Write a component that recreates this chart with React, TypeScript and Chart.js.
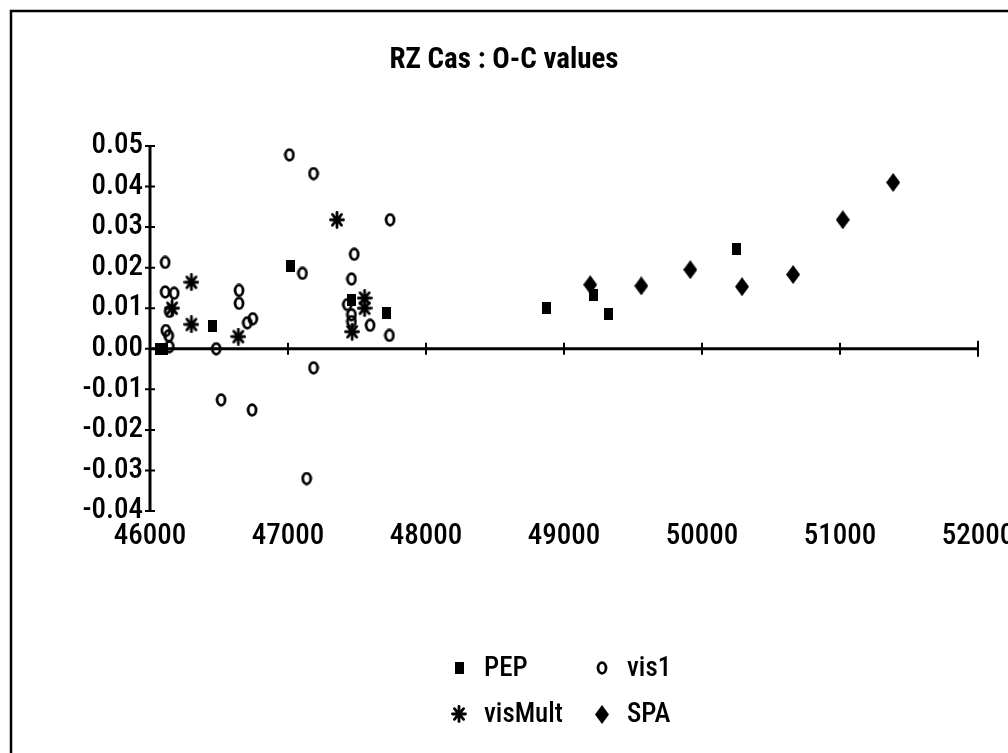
import React, { useEffect, useRef } from 'react';
import { Chart, registerables } from 'chart.js';

Chart.register(...registerables);

// ---------- data ----------
const seriesNames = ['PEP', 'vis1', 'visMult', 'SPA'];

const pepX = [46070, 46100, 46450, 47020, 47460, 47715, 48870, 49215, 49320, 50250];
const pepY = [0.0, 0.0, 0.0055, 0.0203, 0.0121, 0.0089, 0.0100, 0.0132, 0.0085, 0.0245];

const vis1X = [46110, 46110, 46175, 46140, 46115, 46135, 46140, 46480, 46515, 46645, 46645, 46705, 46745, 46740,
  47010, 47185, 47740, 47480, 47105, 47460, 47430, 47460, 47460, 47595, 47735, 47185, 47135];
const vis1Y = [0.0213, 0.0140, 0.0137, 0.0092, 0.0045, 0.0032, 0.0005, 0.0, -0.0126, 0.0144, 0.0112, 0.0064, 0.0074, -0.0151,
  0.0478, 0.0432, 0.0318, 0.0233, 0.0186, 0.0172, 0.0109, 0.0084, 0.0067, 0.0058, 0.0033, -0.0047, -0.0320];

const visMultX = [46160, 46300, 46300, 46640, 47355, 47555, 47555, 47465];
const visMultY = [0.0100, 0.0164, 0.0060, 0.0030, 0.0318, 0.0125, 0.0100, 0.0042];

const spaX = [49190, 49560, 49915, 50290, 50660, 51020, 51385];
const spaY = [0.0158, 0.0155, 0.0195, 0.0153, 0.0183, 0.0318, 0.0410];

const xMin = 46000;
const xMax = 52000;
const xStep = 1000;
const yMin = -0.04;
const yMax = 0.05;
const yStep = 0.01;

const titleText = 'RZ Cas : O-C values';

// ---------- styling ----------
const FONT = "'Roboto Condensed', 'Liberation Sans Narrow', 'Arial Narrow', Roboto, 'Liberation Sans', sans-serif";
const STRETCH = 'condensed';

function makeCanvas(w: number, h: number, draw: (ctx: CanvasRenderingContext2D) => void) {
  const c = document.createElement('canvas');
  c.width = w;
  c.height = h;
  const ctx = c.getContext('2d') as CanvasRenderingContext2D;
  draw(ctx);
  return c;
}

function buildMarkers() {
  const square = makeCanvas(9, 12, (ctx) => {
    ctx.fillStyle = '#000';
    ctx.fillRect(0, 0, 9, 12);
  });
  const ellipse = makeCanvas(12, 14, (ctx) => {
    ctx.strokeStyle = '#000';
    ctx.lineWidth = 2.8;
    ctx.beginPath();
    ctx.ellipse(6, 7, 4.0, 5.3, 0, 0, Math.PI * 2);
    ctx.stroke();
  });
  const star = makeCanvas(16, 18, (ctx) => {
    ctx.strokeStyle = '#000';
    ctx.fillStyle = '#000';
    ctx.lineWidth = 2.8;
    ctx.lineCap = 'round';
    const cx = 8, cy = 9;
    for (let i = 0; i < 8; i++) {
      const a = (i * Math.PI) / 4;
      ctx.beginPath();
      ctx.moveTo(cx, cy);
      ctx.lineTo(cx + Math.cos(a) * 6.5, cy + Math.sin(a) * 7.6);
      ctx.stroke();
    }
    ctx.beginPath();
    ctx.arc(cx, cy, 3.6, 0, Math.PI * 2);
    ctx.fill();
  });
  const diamond = makeCanvas(14, 19, (ctx) => {
    ctx.fillStyle = '#000';
    ctx.beginPath();
    ctx.moveTo(7, 0);
    ctx.lineTo(14, 9.5);
    ctx.lineTo(7, 19);
    ctx.lineTo(0, 9.5);
    ctx.closePath();
    ctx.fill();
  });
  return [square, ellipse, star, diamond];
}

const excelAxesPlugin = {
  id: 'excelAxes',
  beforeDraw(chart: any) {
    const ctx = chart.ctx;
    ctx.save();
    ctx.fillStyle = '#fff';
    ctx.fillRect(0, 0, chart.width, chart.height);
    ctx.strokeStyle = '#000';
    ctx.lineWidth = 2.5;
    ctx.beginPath();
    ctx.moveTo(11, chart.height + 5);
    ctx.lineTo(11, 11);
    ctx.lineTo(chart.width + 5, 11);
    ctx.stroke();
    ctx.restore();
  },
  beforeDatasetsDraw(chart: any) {
    const { ctx } = chart;
    const x = chart.scales.x;
    const y = chart.scales.y;
    const x0 = x.getPixelForValue(xMin);
    const x1 = x.getPixelForValue(xMax);
    const yz = y.getPixelForValue(0);
    const yt = y.getPixelForValue(yMax);
    const yb = y.getPixelForValue(yMin);
    ctx.save();
    ctx.strokeStyle = '#000';
    ctx.lineWidth = 3;
    ctx.beginPath();
    ctx.moveTo(x0, yt);
    ctx.lineTo(x0, yb);
    ctx.moveTo(x0, yz);
    ctx.lineTo(x1, yz);
    ctx.stroke();
    ctx.lineWidth = 2;
    ctx.beginPath();
    for (const t of y.ticks) {
      const py = y.getPixelForValue(t.value);
      ctx.moveTo(x0 - 5, py);
      ctx.lineTo(x0 + 5, py);
    }
    for (const t of x.ticks) {
      const px = x.getPixelForValue(t.value);
      const h = t.value === xMax ? 8 : 6;
      ctx.moveTo(px, yz - h);
      ctx.lineTo(px, yz + h);
    }
    ctx.stroke();
    ctx.restore();
  },
};

function makeLegendPlugin(markers: HTMLCanvasElement[]) {
  return {
    id: 'gridLegend',
    afterDraw(chart: any) {
      const ctx = chart.ctx;
      const slots = [
        { mx: 459, my: 668 },
        { mx: 602, my: 668 },
        { mx: 459, my: 714 },
        { mx: 602, my: 714 },
      ];
      ctx.save();
      ctx.fillStyle = '#000';
      ctx.font = `${STRETCH} 500 27px ${FONT}`;
      ctx.textBaseline = 'middle';
      ctx.textAlign = 'left';
      chart.data.datasets.forEach((ds: any, i: number) => {
        const s = slots[i];
        const m = markers[i];
        ctx.drawImage(m, Math.round(s.mx - m.width / 2), Math.round(s.my - m.height / 2));
        ctx.fillText(ds.label, s.mx + 25, s.my + 1);
      });
      ctx.restore();
    },
  };
}

function toPoints(xs: number[], ys: number[]) {
  return xs.map((x, i) => ({ x, y: ys[i] }));
}

export default function App() {
  const ref = useRef<HTMLCanvasElement | null>(null);

  useEffect(() => {
    if (!ref.current) return;
    const markers = buildMarkers();
    const allX = [pepX, vis1X, visMultX, spaX];
    const allY = [pepY, vis1Y, visMultY, spaY];
    const chart = new Chart(ref.current, {
      type: 'scatter',
      data: {
        datasets: seriesNames.map((name, i) => ({
          label: name,
          data: toPoints(allX[i], allY[i]),
          pointStyle: markers[i] as any,
          pointRadius: 6,
          backgroundColor: '#000',
          borderColor: '#000',
        })),
      },
      options: {
        responsive: false,
        animation: false,
        devicePixelRatio: 1,
        layout: { padding: { left: 30, right: 30, top: 0, bottom: 0 } },
        plugins: {
          legend: { display: false },
          tooltip: { enabled: false },
          title: {
            display: true,
            text: titleText,
            color: '#000',
            font: { family: FONT, size: 29, style: STRETCH as any, weight: 'bold', lineHeight: 1.2 },
            padding: { top: 43, bottom: 68.2 },
          },
        },
        scales: {
          x: {
            type: 'linear',
            min: xMin,
            max: xMax,
            grid: { display: false, drawTicks: false },
            border: { display: false },
            ticks: {
              stepSize: xStep,
              color: '#000',
              padding: 8,
              maxRotation: 0,
              font: { family: FONT, size: 29, style: STRETCH as any, weight: '500' as any },
              callback: (v: any) => String(v),
            },
            afterFit: (s: any) => {
              s.height = 242;
              s.paddingLeft = 0;
              s.paddingRight = 0;
            },
          },
          y: {
            type: 'linear',
            min: yMin,
            max: yMax,
            grid: { display: false, drawTicks: false },
            border: { display: false },
            ticks: {
              stepSize: yStep,
              color: '#000',
              padding: 7,
              font: { family: FONT, size: 29, style: STRETCH as any, weight: '500' as any },
              callback: (v: any) => (Math.abs(Number(v)) < 1e-9 ? '0.00' : Number(v).toFixed(2)),
            },
            afterFit: (s: any) => {
              s.width = 120;
              s.paddingTop = 0;
              s.paddingBottom = 0;
            },
          },
        },
      },
      plugins: [excelAxesPlugin, makeLegendPlugin(markers)],
    });
    return () => chart.destroy();
  }, []);

  return (
    <div style={{ position: 'absolute', left: 0, top: 0, width: 1008, height: 753, background: '#fff' }}>
      <canvas ref={ref} width={1008} height={753} style={{ display: 'block' }} />
    </div>
  );
}
